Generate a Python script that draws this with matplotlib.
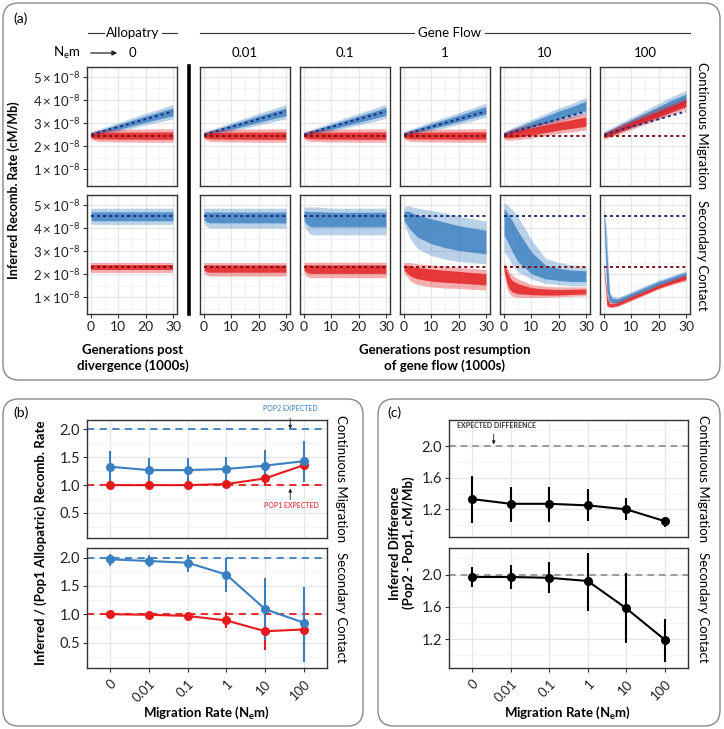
import matplotlib
matplotlib.use("Agg")
import matplotlib.pyplot as plt
import numpy as np
from matplotlib.patches import FancyBboxPatch, FancyArrowPatch
from matplotlib.lines import Line2D
from matplotlib.ticker import FuncFormatter

plt.rcParams['font.family'] = ['Lato', 'DejaVu Sans']
plt.rcParams['mathtext.fontset'] = 'custom'
plt.rcParams['mathtext.rm'] = 'Lato'
plt.rcParams['mathtext.it'] = 'Lato:italic'
plt.rcParams['mathtext.bf'] = 'Lato:bold'

# ---------------- data ----------------
migration_labels = ['0', '0.01', '0.1', '1', '10', '100']
gens = [0, 1, 2, 3, 5, 10, 15, 20, 25, 30]   # generations (1000s)
SCALE = 1e-8

# panel (a), continuous migration, pop2 (blue) trajectories: mid / lower / upper
cm_pop2_mid = [
    [2.50, 2.53, 2.57, 2.60, 2.67, 2.83, 3.00, 3.17, 3.33, 3.48],
    [2.50, 2.53, 2.57, 2.60, 2.67, 2.83, 3.00, 3.17, 3.33, 3.48],
    [2.50, 2.53, 2.57, 2.60, 2.67, 2.83, 3.00, 3.17, 3.33, 3.50],
    [2.50, 2.54, 2.58, 2.61, 2.69, 2.86, 3.03, 3.20, 3.38, 3.55],
    [2.50, 2.55, 2.60, 2.64, 2.72, 2.93, 3.14, 3.35, 3.55, 3.75],
    [2.48, 2.55, 2.60, 2.65, 2.76, 3.03, 3.29, 3.55, 3.82, 4.08],
]
cm_pop2_lo = [
    [2.38, 2.41, 2.44, 2.46, 2.52, 2.64, 2.78, 2.92, 3.05, 3.18],
    [2.38, 2.41, 2.44, 2.46, 2.52, 2.64, 2.78, 2.92, 3.05, 3.18],
    [2.38, 2.41, 2.44, 2.46, 2.52, 2.64, 2.78, 2.92, 3.05, 3.20],
    [2.38, 2.41, 2.44, 2.47, 2.53, 2.66, 2.80, 2.95, 3.10, 3.25],
    [2.38, 2.42, 2.45, 2.48, 2.55, 2.72, 2.88, 3.05, 3.22, 3.40],
    [2.35, 2.40, 2.44, 2.48, 2.57, 2.80, 3.02, 3.25, 3.50, 3.75],
]
cm_pop2_hi = [
    [2.62, 2.66, 2.70, 2.74, 2.82, 3.02, 3.22, 3.42, 3.60, 3.80],
    [2.62, 2.66, 2.70, 2.74, 2.82, 3.02, 3.22, 3.42, 3.60, 3.80],
    [2.62, 2.66, 2.70, 2.74, 2.82, 3.02, 3.22, 3.42, 3.60, 3.82],
    [2.62, 2.67, 2.72, 2.76, 2.85, 3.05, 3.25, 3.45, 3.65, 3.85],
    [2.62, 2.68, 2.74, 2.80, 2.90, 3.15, 3.40, 3.65, 3.85, 4.10],
    [2.62, 2.70, 2.76, 2.82, 2.95, 3.25, 3.55, 3.85, 4.15, 4.40],
]
# continuous migration, pop1 (red)
cm_pop1_mid = [
    [2.45, 2.45, 2.45, 2.45, 2.45, 2.45, 2.45, 2.45, 2.45, 2.45],
    [2.45, 2.45, 2.45, 2.45, 2.45, 2.45, 2.45, 2.45, 2.45, 2.45],
    [2.45, 2.45, 2.45, 2.45, 2.45, 2.45, 2.45, 2.45, 2.45, 2.45],
    [2.45, 2.45, 2.45, 2.45, 2.45, 2.46, 2.46, 2.46, 2.46, 2.46],
    [2.45, 2.47, 2.48, 2.50, 2.54, 2.63, 2.75, 2.86, 2.96, 3.06],
    [2.45, 2.50, 2.54, 2.58, 2.68, 2.92, 3.16, 3.38, 3.62, 3.85],
]
cm_pop1_lo = [
    [2.30, 2.25, 2.22, 2.20, 2.20, 2.18, 2.18, 2.17, 2.17, 2.17],
    [2.30, 2.25, 2.22, 2.20, 2.20, 2.18, 2.18, 2.17, 2.17, 2.17],
    [2.30, 2.25, 2.22, 2.20, 2.20, 2.18, 2.18, 2.17, 2.17, 2.17],
    [2.30, 2.25, 2.22, 2.20, 2.20, 2.18, 2.18, 2.17, 2.17, 2.17],
    [2.30, 2.27, 2.26, 2.26, 2.28, 2.35, 2.45, 2.55, 2.62, 2.70],
    [2.30, 2.33, 2.37, 2.41, 2.50, 2.72, 2.95, 3.15, 3.38, 3.60],
]
cm_pop1_hi = [
    [2.60, 2.65, 2.68, 2.70, 2.72, 2.73, 2.74, 2.74, 2.75, 2.75],
    [2.60, 2.65, 2.68, 2.70, 2.72, 2.73, 2.74, 2.74, 2.75, 2.75],
    [2.60, 2.65, 2.68, 2.70, 2.72, 2.73, 2.74, 2.74, 2.75, 2.75],
    [2.60, 2.65, 2.68, 2.70, 2.72, 2.73, 2.74, 2.74, 2.75, 2.75],
    [2.60, 2.66, 2.70, 2.74, 2.80, 2.92, 3.05, 3.18, 3.30, 3.42],
    [2.60, 2.66, 2.71, 2.76, 2.87, 3.13, 3.38, 3.62, 3.85, 4.10],
]
# secondary contact, pop2 (blue)
sc_pop2_mid = [
    [4.50, 4.50, 4.50, 4.50, 4.50, 4.50, 4.50, 4.50, 4.50, 4.50],
    [4.50, 4.49, 4.48, 4.48, 4.48, 4.48, 4.48, 4.48, 4.48, 4.48],
    [4.50, 4.48, 4.47, 4.46, 4.46, 4.46, 4.46, 4.46, 4.46, 4.46],
    [4.50, 4.45, 4.40, 4.35, 4.20, 3.95, 3.75, 3.60, 3.50, 3.40],
    [4.50, 4.30, 4.00, 3.70, 3.10, 2.30, 2.05, 1.95, 1.90, 1.90],
    [4.50, 1.80, 0.95, 0.85, 0.85, 1.10, 1.35, 1.60, 1.80, 2.00],
]
sc_pop2_lo = [
    [4.20, 4.15, 4.15, 4.15, 4.15, 4.15, 4.15, 4.15, 4.15, 4.15],
    [4.20, 4.05, 4.00, 4.00, 4.00, 4.00, 4.00, 4.00, 4.00, 4.00],
    [4.15, 3.90, 3.75, 3.70, 3.70, 3.70, 3.70, 3.70, 3.70, 3.70],
    [4.15, 3.90, 3.60, 3.40, 3.10, 2.80, 2.65, 2.55, 2.50, 2.45],
    [3.00, 2.80, 2.60, 2.40, 2.10, 1.80, 1.60, 1.55, 1.50, 1.50],
    [4.10, 0.90, 0.75, 0.70, 0.70, 0.95, 1.20, 1.45, 1.65, 1.85],
]
sc_pop2_hi = [
    [4.85, 4.85, 4.85, 4.85, 4.85, 4.85, 4.85, 4.85, 4.85, 4.85],
    [4.85, 4.85, 4.85, 4.85, 4.85, 4.85, 4.85, 4.85, 4.85, 4.85],
    [4.90, 4.90, 4.90, 4.90, 4.90, 4.85, 4.85, 4.85, 4.85, 4.85],
    [4.90, 4.95, 4.95, 4.90, 4.85, 4.75, 4.65, 4.50, 4.40, 4.30],
    [5.10, 5.00, 4.90, 4.80, 4.50, 3.50, 2.70, 2.50, 2.40, 2.35],
    [4.95, 3.80, 1.30, 1.05, 1.00, 1.25, 1.50, 1.75, 1.95, 2.15],
]
# secondary contact, pop1 (red)
sc_pop1_mid = [
    [2.30, 2.30, 2.30, 2.30, 2.30, 2.30, 2.30, 2.30, 2.30, 2.30],
    [2.30, 2.29, 2.28, 2.28, 2.28, 2.28, 2.28, 2.28, 2.28, 2.28],
    [2.30, 2.28, 2.27, 2.26, 2.26, 2.26, 2.26, 2.26, 2.26, 2.26],
    [2.30, 2.25, 2.20, 2.15, 2.10, 2.00, 1.95, 1.90, 1.85, 1.80],
    [2.30, 1.90, 1.60, 1.45, 1.35, 1.25, 1.22, 1.20, 1.22, 1.25],
    [2.30, 0.75, 0.65, 0.65, 0.70, 0.95, 1.20, 1.45, 1.65, 1.85],
]
sc_pop1_lo = [
    [2.05, 2.05, 2.05, 2.05, 2.05, 2.05, 2.05, 2.05, 2.05, 2.05],
    [2.05, 1.95, 1.92, 1.92, 1.92, 1.92, 1.92, 1.92, 1.92, 1.92],
    [2.05, 1.90, 1.85, 1.85, 1.85, 1.85, 1.85, 1.85, 1.85, 1.85],
    [2.05, 1.90, 1.75, 1.65, 1.55, 1.45, 1.40, 1.38, 1.35, 1.32],
    [2.05, 1.40, 1.15, 1.05, 1.00, 1.00, 1.00, 1.02, 1.05, 1.07],
    [2.10, 0.60, 0.55, 0.55, 0.60, 0.85, 1.10, 1.35, 1.55, 1.70],
]
sc_pop1_hi = [
    [2.50, 2.50, 2.50, 2.50, 2.50, 2.50, 2.50, 2.50, 2.50, 2.50],
    [2.50, 2.50, 2.50, 2.50, 2.50, 2.50, 2.50, 2.50, 2.50, 2.50],
    [2.50, 2.52, 2.52, 2.52, 2.52, 2.52, 2.52, 2.52, 2.52, 2.52],
    [2.50, 2.50, 2.50, 2.48, 2.45, 2.40, 2.35, 2.30, 2.25, 2.20],
    [2.50, 2.35, 2.10, 1.95, 1.80, 1.55, 1.48, 1.45, 1.45, 1.45],
    [2.45, 1.20, 0.80, 0.78, 0.82, 1.08, 1.32, 1.57, 1.78, 2.00],
]
# expected values (x 1e-8)
expected_gens = [0, 30]
cm_expected_pop2 = [2.5, 3.5]
cm_expected_pop1 = [2.45, 2.45]
sc_expected_pop2 = [4.5, 4.5]
sc_expected_pop1 = [2.3, 2.3]

# panel (b): inferred / pop1 allopatric
b_cm_pop2 = [1.33, 1.27, 1.27, 1.29, 1.35, 1.43]
b_cm_pop2_lo = [1.05, 1.06, 1.06, 1.07, 1.06, 1.06]
b_cm_pop2_hi = [1.61, 1.48, 1.48, 1.51, 1.64, 1.79]
b_cm_pop1 = [1.00, 1.00, 1.00, 1.02, 1.12, 1.36]
b_cm_pop1_lo = [0.98, 0.98, 0.98, 0.99, 1.01, 1.10]
b_cm_pop1_hi = [1.02, 1.02, 1.02, 1.05, 1.22, 1.62]
b_sc_pop2 = [1.97, 1.94, 1.91, 1.70, 1.09, 0.85]
b_sc_pop2_lo = [1.86, 1.84, 1.75, 1.39, 0.54, 0.16]
b_sc_pop2_hi = [2.07, 2.05, 2.05, 1.99, 1.64, 1.48]
b_sc_pop1 = [1.00, 0.99, 0.97, 0.89, 0.70, 0.73]
b_sc_pop1_lo = [0.97, 0.96, 0.93, 0.76, 0.37, 0.18]
b_sc_pop1_hi = [1.03, 1.02, 1.01, 1.04, 1.03, 1.16]
b_expected_pop2 = 2.0
b_expected_pop1 = 1.0

# panel (c): inferred difference
c_cm = [1.33, 1.27, 1.27, 1.25, 1.20, 1.05]
c_cm_lo = [1.03, 1.04, 1.04, 1.05, 1.06, 0.98]
c_cm_hi = [1.62, 1.48, 1.48, 1.46, 1.34, 1.10]
c_sc = [1.97, 1.97, 1.96, 1.92, 1.58, 1.19]
c_sc_lo = [1.84, 1.82, 1.77, 1.55, 1.15, 0.91]
c_sc_hi = [2.10, 2.12, 2.16, 2.27, 2.02, 1.45]
c_expected = 2.0

# ---------------- styling ----------------
BLUE = '#3A7FC0'
RED = '#E41A1C'
DBLUE = '#1E2C7C'
DRED = '#7A1014'
EDGE = '#333333'
GRID = '#E6E6E6'
GRID_MINOR = '#F3F3F3'

W, H = 724, 729
fig = plt.figure(figsize=(W / 100, H / 100), dpi=100)


def fx(x):
    return x / W


def fy(y):
    return 1 - y / H


def add_ax(x0, y0, w, h):
    return fig.add_axes([x0 / W, 1 - (y0 + h) / H, w / W, h / H])


def style_ax(ax, labelsize=9):
    for s in ax.spines.values():
        s.set_color(EDGE)
        s.set_linewidth(1.0)
    ax.tick_params(which='major', length=3, width=0.8, color=EDGE,
                   labelsize=labelsize, labelcolor='#222222', pad=2)
    ax.tick_params(which='minor', length=0)
    ax.grid(which='major', color=GRID, lw=0.9)
    ax.grid(which='minor', color=GRID_MINOR, lw=0.6)
    ax.set_axisbelow(True)


def draw_band(ax, mid, lo, hi, color):
    x = np.array(gens)
    mid = np.array(mid) * SCALE
    lo = np.array(lo) * SCALE
    hi = np.array(hi) * SCALE
    ax.fill_between(x, lo, hi, color=color, alpha=0.35, lw=0)
    ax.fill_between(x, mid - 0.55 * (mid - lo), mid + 0.55 * (hi - mid),
                    color=color, alpha=0.8, lw=0)


# ---------------- rounded panel boxes ----------------
for (x0, y0, x1, y1) in [(3, 3, 720, 380), (3, 399, 363, 726), (378, 399, 720, 726)]:
    box = FancyBboxPatch((fx(x0), fy(y1)), fx(x1) - fx(x0), fy(y0) - fy(y1),
                         boxstyle='round,pad=0,rounding_size=0.022',
                         transform=fig.transFigure, fc='none', ec='#888888', lw=1.0)
    fig.add_artist(box)

# ---------------- panel (a) ----------------
col_left = [87, 200, 300, 400, 500, 600]
row_top = [67, 195]
pw, ph = 90, 119
rows = [
    (cm_pop2_mid, cm_pop2_lo, cm_pop2_hi, cm_pop1_mid, cm_pop1_lo, cm_pop1_hi,
     cm_expected_pop2, cm_expected_pop1),
    (sc_pop2_mid, sc_pop2_lo, sc_pop2_hi, sc_pop1_mid, sc_pop1_lo, sc_pop1_hi,
     sc_expected_pop2, sc_expected_pop1),
]
sci_fmt = FuncFormatter(lambda v, p: r'$%d\times10^{-8}$' % round(v / SCALE))
for r, (p2m, p2l, p2h, p1m, p1l, p1h, e2, e1) in enumerate(rows):
    for c in range(6):
        ax = add_ax(col_left[c], row_top[r], pw, ph)
        style_ax(ax, labelsize=9)
        draw_band(ax, p2m[c], p2l[c], p2h[c], BLUE)
        draw_band(ax, p1m[c], p1l[c], p1h[c], RED)
        ax.plot(expected_gens, np.array(e2) * SCALE, color=DBLUE, lw=1.4,
                ls=(0, (1.5, 1.6)), zorder=5)
        ax.plot(expected_gens, np.array(e1) * SCALE, color=DRED, lw=1.4,
                ls=(0, (1.5, 1.6)), zorder=5)
        ax.set_xlim(-1.5, 31.5)
        ax.set_ylim(0.28e-8, 5.42e-8)
        ax.set_xticks([0, 10, 20, 30])
        ax.set_xticks([5, 15, 25], minor=True)
        ax.set_yticks([1e-8, 2e-8, 3e-8, 4e-8, 5e-8])
        ax.set_yticks([0.5e-8, 1.5e-8, 2.5e-8, 3.5e-8, 4.5e-8], minor=True)
        if c == 0:
            ax.yaxis.set_major_formatter(sci_fmt)
            ax.tick_params(axis='y', labelsize=9.5)
        else:
            ax.tick_params(axis='y', length=0, labelleft=False)
        if r == 0:
            ax.tick_params(axis='x', length=0, labelbottom=False)
        else:
            ax.tick_params(axis='x', labelsize=10)

# separator between allopatry and gene flow
fig.add_artist(Line2D([fx(188.5), fx(188.5)], [fy(66), fy(314)],
                      transform=fig.transFigure, color='black', lw=2.6))

# headers
fig.text(fx(13), fy(19), '(a)', fontsize=10, ha='left', va='center')
fig.text(fx(133), fy(33), 'Allopatry', fontsize=9.5, ha='center', va='center')
fig.text(fx(450), fy(33), 'Gene Flow', fontsize=9.5, ha='center', va='center')
for (xa, xb) in [(88, 104), (162, 177), (200, 414), (485, 690)]:
    fig.add_artist(Line2D([fx(xa), fx(xb)], [fy(33), fy(33)],
                          transform=fig.transFigure, color='#333333', lw=0.8))
fig.text(fx(80), fy(53), r'N$_\mathregular{e}$m', fontsize=9.5, ha='right', va='center')
fig.add_artist(FancyArrowPatch((fx(88), fy(53)), (fx(120), fy(53)),
                               transform=fig.transFigure, arrowstyle='-|>',
                               mutation_scale=7, color='#222222', lw=0.9))
for c, lab in enumerate(migration_labels):
    fig.text(fx(col_left[c] + pw / 2), fy(53), lab, fontsize=9.5,
             ha='center', va='center')

fig.text(fx(702), fy(126), 'Continuous Migration', rotation=270, fontsize=9.5,
         ha='center', va='center')
fig.text(fx(702), fy(255), 'Secondary Contact', rotation=270, fontsize=9.5,
         ha='center', va='center')
fig.text(fx(14), fy(190), 'Inferred Recomb. Rate (cM/Mb)', rotation=90,
         fontsize=9, fontweight='bold', ha='center', va='center')
fig.text(fx(133), fy(358), 'Generations post\ndivergence (1000s)', fontsize=9.5,
         fontweight='bold', ha='center', va='center', linespacing=1.25)
fig.text(fx(445), fy(358), 'Generations post resumption\nof gene flow (1000s)',
         fontsize=9.5, fontweight='bold', ha='center', va='center', linespacing=1.25)

# ---------------- panel (b) ----------------
xpos = np.arange(1, 7)


def cat_axes(ax, ylim, major, minor):
    style_ax(ax, labelsize=10.5)
    ax.set_xlim(0.4, 6.6)
    ax.set_ylim(*ylim)
    ax.set_xticks(xpos)
    ax.set_yticks(major)
    ax.set_yticks(minor, minor=True)


def err_series(ax, y, lo, hi, color):
    y = np.array(y)
    ax.errorbar(xpos, y, yerr=[y - np.array(lo), np.array(hi) - y], fmt='o-',
                color=color, ms=5.5, lw=1.5, elinewidth=1.5, capsize=0, zorder=3)


b_top = add_ax(87, 420, 240, 118)
b_bot = add_ax(87, 548, 240, 120)
for ax, p2, p2l, p2h, p1, p1l, p1h in [
        (b_top, b_cm_pop2, b_cm_pop2_lo, b_cm_pop2_hi, b_cm_pop1, b_cm_pop1_lo, b_cm_pop1_hi),
        (b_bot, b_sc_pop2, b_sc_pop2_lo, b_sc_pop2_hi, b_sc_pop1, b_sc_pop1_lo, b_sc_pop1_hi)]:
    cat_axes(ax, (0.05, 2.17), [0.5, 1.0, 1.5, 2.0], [0.25, 0.75, 1.25, 1.75])
    ax.yaxis.set_major_formatter(FuncFormatter(lambda v, p: '%.1f' % v))
    ax.axhline(b_expected_pop2, color=BLUE, lw=1.3, ls=(0, (4, 3)), zorder=2)
    ax.axhline(b_expected_pop1, color=RED, lw=1.3, ls=(0, (4, 3)), zorder=2)
    err_series(ax, p1, p1l, p1h, RED)
    err_series(ax, p2, p2l, p2h, BLUE)
b_top.tick_params(axis='x', length=0, labelbottom=False)
b_bot.set_xticklabels(migration_labels, rotation=45, ha='right',
                      rotation_mode='anchor', fontsize=9.5)
b_bot.tick_params(axis='x', pad=4)

b_top.text(5.65, 2.37, 'POP2 EXPECTED', color=BLUE, fontsize=5, ha='center',
           va='center', clip_on=False)
b_top.annotate('', xy=(5.65, 2.01), xytext=(5.65, 2.2), annotation_clip=False,
               arrowprops=dict(arrowstyle='-|>', color='#222222', lw=0.6,
                               mutation_scale=5, shrinkA=0, shrinkB=0))
b_top.text(5.67, 0.63, 'POP1 EXPECTED', color=RED, fontsize=5, ha='center',
           va='center')
b_top.annotate('', xy=(5.65, 0.94), xytext=(5.65, 0.74),
               arrowprops=dict(arrowstyle='-|>', color='#222222', lw=0.6,
                               mutation_scale=5, shrinkA=0, shrinkB=0))

fig.text(fx(13), fy(413), '(b)', fontsize=10, ha='left', va='center')
fig.text(fx(41), fy(543), 'Inferred / (Pop1 Allopatric) Recomb. Rate',
         rotation=90, fontsize=9.5, fontweight='bold', ha='center', va='center')
fig.text(fx(207), fy(713), r'Migration Rate (N$_\mathregular{e}$m)', fontsize=9.5,
         fontweight='bold', ha='center', va='center')
fig.text(fx(341), fy(479), 'Continuous Migration', rotation=270, fontsize=9.5,
         ha='center', va='center')
fig.text(fx(341), fy(607), 'Secondary Contact', rotation=270, fontsize=9.5,
         ha='center', va='center')

# ---------------- panel (c) ----------------
c_top = add_ax(449, 420, 239, 117)
c_bot = add_ax(449, 548, 239, 120)
for ax, y, lo, hi, ylim in [(c_top, c_cm, c_cm_lo, c_cm_hi, (0.85, 2.33)),
                            (c_bot, c_sc, c_sc_lo, c_sc_hi, (0.84, 2.33))]:
    cat_axes(ax, ylim, [1.2, 1.6, 2.0], [1.0, 1.4, 1.8, 2.2])
    ax.yaxis.set_major_formatter(FuncFormatter(lambda v, p: '%.1f' % v))
    ax.axhline(c_expected, color='#8C8C8C', lw=1.2, ls=(0, (4, 3)), zorder=2)
    err_series(ax, y, lo, hi, 'black')
c_top.tick_params(axis='x', length=0, labelbottom=False)
c_bot.set_xticklabels(migration_labels, rotation=45, ha='right',
                      rotation_mode='anchor', fontsize=9.5)
c_bot.tick_params(axis='x', pad=4)

c_top.text(0.61, 2.26, 'EXPECTED DIFFERENCE', color='#333333', fontsize=5,
           fontweight='bold', ha='left', va='center')
c_top.annotate('', xy=(1.56, 2.02), xytext=(1.56, 2.15),
               arrowprops=dict(arrowstyle='-|>', color='#222222', lw=0.6,
                               mutation_scale=5, shrinkA=0, shrinkB=0))

fig.text(fx(387), fy(413), '(c)', fontsize=10, ha='left', va='center')
fig.text(fx(402), fy(543), 'Inferred Difference\n(Pop2 - Pop1, cM/Mb)',
         rotation=90, fontsize=9.5, fontweight='bold', ha='center', va='center',
         linespacing=1.2)
fig.text(fx(568), fy(713), r'Migration Rate (N$_\mathregular{e}$m)', fontsize=9.5,
         fontweight='bold', ha='center', va='center')
fig.text(fx(703), fy(479), 'Continuous Migration', rotation=270, fontsize=9.5,
         ha='center', va='center')
fig.text(fx(703), fy(607), 'Secondary Contact', rotation=270, fontsize=9.5,
         ha='center', va='center')

fig.savefig('out.png', dpi=100)
